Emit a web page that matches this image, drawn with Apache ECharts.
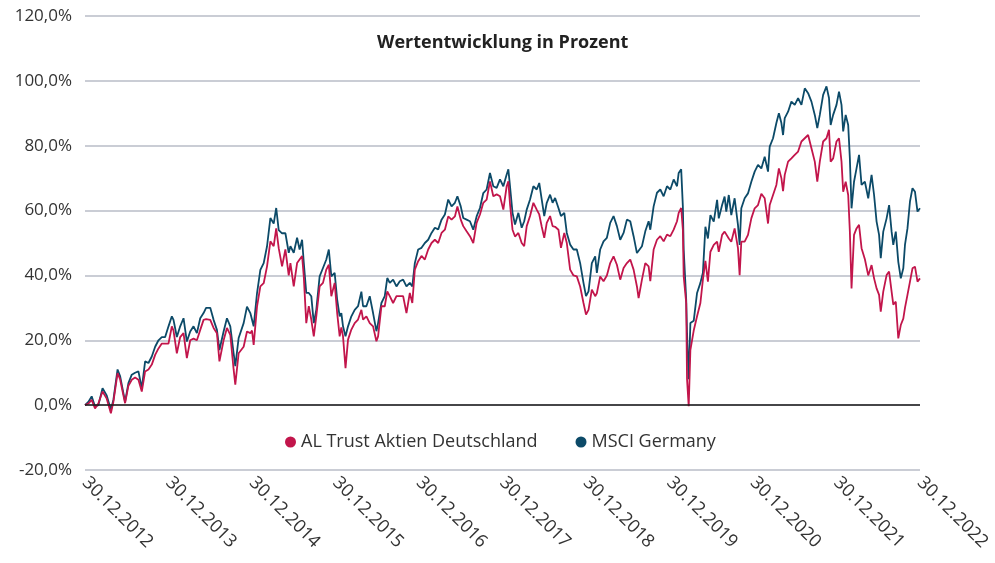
<!DOCTYPE html>
<html>
<head>
<meta charset="utf-8">
<script src="https://cdn.jsdelivr.net/npm/echarts@6/dist/echarts.min.js"></script>
<style>
  html, body { margin: 0; padding: 0; background: #fff; }
  #chart { width: 995px; height: 563px; }
</style>
</head>
<body>
<div id="chart"></div>
<script>
  // time in years since 30.12.2012
  const years = [
    0, 0.04, 0.08, 0.12, 0.16, 0.21, 0.26, 0.31, 0.34, 0.39, 0.42, 0.46, 0.48, 0.52, 0.56, 0.6, 0.64, 0.68, 0.72, 0.76,
    0.8, 0.84, 0.88, 0.92, 0.96, 1.0, 1.04, 1.06, 1.1, 1.14, 1.18, 1.22, 1.26, 1.3, 1.34, 1.38, 1.42, 1.45, 1.5, 1.54,
    1.58, 1.61, 1.66, 1.7, 1.74, 1.78, 1.8, 1.84, 1.9, 1.94, 1.98, 2.0, 2.02, 2.06, 2.1, 2.14, 2.18, 2.22, 2.26, 2.29,
    2.32, 2.36, 2.4, 2.44, 2.46, 2.5, 2.54, 2.57, 2.6, 2.62, 2.65, 2.68, 2.71, 2.74, 2.77, 2.81, 2.85, 2.89, 2.92, 2.95,
    2.99, 3.02, 3.05, 3.07, 3.09, 3.12, 3.15, 3.19, 3.23, 3.27, 3.31, 3.33, 3.37, 3.41, 3.45, 3.49, 3.51, 3.55, 3.59, 3.62,
    3.65, 3.69, 3.73, 3.77, 3.81, 3.85, 3.89, 3.92, 3.95, 3.99, 4.03, 4.07, 4.11, 4.15, 4.19, 4.23, 4.27, 4.31, 4.35, 4.39,
    4.43, 4.46, 4.5, 4.53, 4.57, 4.61, 4.65, 4.69, 4.73, 4.77, 4.81, 4.85, 4.89, 4.93, 4.97, 5.01, 5.05, 5.07, 5.09, 5.12,
    5.15, 5.19, 5.23, 5.26, 5.29, 5.33, 5.37, 5.41, 5.44, 5.47, 5.5, 5.53, 5.57, 5.6, 5.63, 5.67, 5.7, 5.74, 5.77, 5.81,
    5.85, 5.89, 5.93, 5.97, 6.0, 6.03, 6.07, 6.11, 6.13, 6.17, 6.21, 6.25, 6.29, 6.33, 6.37, 6.41, 6.45, 6.49, 6.53, 6.57,
    6.61, 6.63, 6.67, 6.71, 6.75, 6.77, 6.81, 6.85, 6.89, 6.93, 6.97, 7.01, 7.05, 7.09, 7.11, 7.14, 7.16, 7.17, 7.2, 7.21,
    7.23, 7.25, 7.29, 7.33, 7.37, 7.4, 7.43, 7.46, 7.49, 7.53, 7.57, 7.59, 7.63, 7.66, 7.68, 7.71, 7.74, 7.78, 7.82, 7.84,
    7.86, 7.9, 7.94, 7.98, 8.02, 8.06, 8.1, 8.14, 8.18, 8.2, 8.24, 8.28, 8.31, 8.34, 8.36, 8.38, 8.42, 8.46, 8.5, 8.54,
    8.58, 8.62, 8.66, 8.7, 8.74, 8.77, 8.8, 8.84, 8.88, 8.91, 8.93, 8.96, 9.0, 9.03, 9.06, 9.08, 9.11, 9.14, 9.16, 9.18,
    9.21, 9.24, 9.27, 9.3, 9.34, 9.38, 9.42, 9.45, 9.48, 9.51, 9.53, 9.56, 9.6, 9.63, 9.66, 9.68, 9.71, 9.74, 9.77, 9.8,
    9.82, 9.85, 9.88, 9.91, 9.94, 9.97, 10.0
  ];

  const msciGermany = [
    0, 1, 2.7, -0.4, 0, 5.2, 3, -1.4, 1.6, 11, 9, 3.7, 1, 6.8, 9.4, 10, 10.4, 5.2, 13.5, 13,
    15, 18, 20, 21, 21, 24.3, 27.4, 26.3, 21, 24.3, 26.8, 19.6, 22.7, 24.3, 22.2, 26.8, 28.4, 30, 30, 26.3,
    23.2, 17, 22.7, 26.8, 24.3, 16, 12, 20.7, 25.3, 30.4, 28.4, 29, 24.3, 34.5, 41.7, 43.8, 49, 57.7, 56, 60.8,
    54, 53, 53, 47, 49, 47, 51.6, 48, 51, 44, 34.6, 34.6, 33.6, 25.3, 29.4, 39.7, 42.3, 44.9, 48, 39.7,
    40.8, 32.5, 27.4, 28.4, 24.3, 21.2, 24.3, 27.4, 29.4, 30.5, 35, 30.5, 30.5, 33.6, 28.4, 22.8, 25.3, 31.5, 33.6, 39.2,
    37.7, 38.7, 36.6, 38.2, 38.7, 36.6, 37.7, 36.6, 43.8, 48, 48.5, 50, 51, 53.1, 54.7, 54.2, 57.2, 58.8, 63.4, 61.3,
    62.4, 64.4, 61.3, 57.7, 57.2, 56.7, 54.1, 58.2, 60.8, 65.4, 66.5, 71.6, 67.5, 67, 69.6, 67.5, 71.1, 72.7, 67.5, 59.3,
    55.7, 59.3, 54.7, 56.7, 60.3, 63.4, 67.5, 66.5, 68.5, 63.4, 58.3, 62.4, 64.9, 62.4, 63.9, 60.8, 58.3, 59.3, 53.1, 49.5,
    48, 48, 43.8, 37.7, 33.6, 35.1, 43.8, 45.9, 40.8, 48, 50.5, 51.6, 56.2, 58.3, 55.2, 51, 53.1, 57.2, 56.7, 52.1,
    46.9, 47.5, 49, 53.6, 56.7, 54.1, 61.3, 65.5, 66.5, 64.4, 67.5, 66.5, 69.6, 67.5, 71.6, 72.7, 61.3, 48, 32.5, 22.2,
    8, 25.3, 26, 34.6, 37.7, 40.8, 55, 51.4, 58.6, 56.6, 63.3, 57.6, 61.7, 64.3, 59.7, 64.8, 58.6, 63.8, 55.6, 49.4,
    60.7, 63.8, 65.3, 68.9, 72, 74.1, 73, 76.6, 72, 79.7, 82.3, 87, 90, 87, 83.3, 88.5, 90.5, 93.6, 92.6, 94.7,
    92.6, 97.7, 96.2, 93.6, 89.5, 85.4, 89.5, 95.7, 98.3, 94.7, 86.4, 89.5, 92.6, 96.7, 92.6, 84.4, 89.5, 86.4, 76.1, 60.7,
    68.9, 73, 77.2, 67.9, 68.9, 63.8, 71, 64.8, 56.6, 52.5, 45.3, 53.5, 57.6, 61.7, 53.5, 49.4, 53.5, 44.2, 39.1, 42.2,
    49.4, 54.5, 62.8, 66.9, 65.8, 59.7, 60.7
  ];

  const alTrust = [
    0, 0.5, 1.6, -1, 0.5, 4.2, 2, -2.5, 1, 9.9, 8, 3, 0.6, 6, 7.8, 8.5, 7.8, 4.2, 10.4, 11,
    12.5, 15.5, 17.5, 19, 19, 19, 24.3, 23, 16, 21, 22.2, 14.5, 20, 20.5, 20, 23.2, 26.3, 26.5, 26.3, 23.8,
    22.2, 13.5, 20, 23.8, 21.7, 11, 6.3, 16, 18, 22.7, 22.2, 23, 18.6, 30.4, 36.6, 37.6, 42.8, 50.5, 49, 54.5,
    48.4, 42.8, 48, 40, 43.8, 36.6, 43.8, 44.9, 46, 39.7, 25.3, 30.5, 26.4, 21.2, 27.4, 36.6, 37.7, 41.8, 43.3, 33.6,
    37.7, 28.4, 21.2, 24, 21.2, 11.4, 20.2, 23.3, 25.3, 26.4, 29.4, 26.4, 27.4, 25.3, 24.3, 19.7, 21.2, 30.5, 30.5, 35.1,
    33.6, 31.5, 33.6, 33.6, 33.6, 28.4, 34.6, 31.5, 41.8, 44.4, 46, 44.9, 48, 50, 51, 50, 53.1, 54.1, 58.2, 57.2,
    58.2, 61.3, 57.2, 55.2, 53.6, 52.1, 50, 56.2, 58.8, 62.4, 63.4, 69, 64.4, 65, 64.4, 60.3, 67.5, 69, 62, 54.1,
    52, 53.1, 50, 49, 55.2, 58.3, 62.4, 60.3, 58.8, 55, 51.6, 56.2, 58.3, 55.2, 55, 54.1, 48.5, 53.1, 50, 41.8,
    40, 39.7, 36.6, 31.5, 27.9, 29.4, 35.6, 33.6, 34.5, 39.7, 38.2, 40, 43.8, 45.9, 43.3, 38.7, 42.3, 43.8, 44.9, 41.8,
    36.6, 33, 38.7, 43.8, 42.8, 38.2, 48, 51, 52.1, 50.5, 52.6, 52.1, 54.1, 56.7, 59.3, 60.8, 54.1, 39.7, 31.5, 8,
    -0.3, 17, 23, 27.4, 31.5, 38.7, 44.5, 38.1, 47.3, 49.4, 50.4, 47.3, 52.5, 53.5, 53.5, 51.4, 50.4, 54.5, 48.4, 40.1,
    50.4, 50.4, 52.5, 57.6, 60.7, 61.7, 65.2, 63.8, 56, 61.7, 64.8, 67.9, 73, 70, 66, 71, 75.1, 76.1, 77.2, 78.2,
    81.3, 82.3, 83.3, 79.2, 75.1, 68.9, 75.1, 81.3, 82.3, 84.9, 75.1, 76.1, 81.3, 82.3, 75.1, 65.8, 68.9, 64.8, 53.5, 36,
    52.5, 54.5, 55.6, 48.4, 45, 40, 43.2, 39.1, 36, 34, 28.8, 35, 40.1, 41.2, 35, 31, 31.9, 20.6, 24.7, 26.7,
    30, 34, 38.1, 42.2, 42.7, 38.1, 39.1
  ];

  const seriesNames = ['AL Trust Aktien Deutschland', 'MSCI Germany'];
  const yTicks = { min: -20, max: 120, step: 20 };

  const font = '"Open Sans", "Noto Sans", sans-serif';
  const textColor = '#333333';

  const chartDom = document.getElementById('chart');
  const myChart = echarts.init(chartDom);

  const option = {
    animation: false,
    textStyle: { fontFamily: font },
    title: {
      text: 'Wertentwicklung in Prozent',
      left: 372,
      top: 29,
      textStyle: { fontSize: 18, fontWeight: 'bold', color: '#222', fontFamily: font }
    },
    legend: {
      data: seriesNames,
      left: 280,
      top: 428,
      icon: 'circle',
      itemWidth: 11,
      itemHeight: 11,
      itemGap: 38,
      textStyle: { fontSize: 18, color: textColor, fontFamily: font }
    },
    grid: { left: 85, right: 75, top: 16, bottom: 93 },
    xAxis: {
      type: 'value',
      min: 0,
      max: 10,
      interval: 1,
      axisLine: { show: false },
      axisTick: { show: false },
      splitLine: { show: false },
      axisLabel: {
        rotate: -45,
        margin: 10,
        fontSize: 18,
        color: textColor,
        fontFamily: font,
        formatter: v => '30.12.' + (2012 + v)
      }
    },
    yAxis: {
      type: 'value',
      min: yTicks.min,
      max: yTicks.max,
      interval: yTicks.step,
      axisLine: { show: false },
      axisTick: { show: false },
      splitLine: { lineStyle: { color: '#b9bdc7', width: 1.5 } },
      axisLabel: {
        margin: 13,
        fontSize: 17,
        color: textColor,
        fontFamily: font,
        formatter: v => v.toFixed(1).replace('.', ',') + '%'
      }
    },
    series: [
      {
        name: 'MSCI Germany',
        type: 'line',
        showSymbol: false,
        color: '#0c4a68',
        lineStyle: { width: 1.8, color: '#0c4a68' },
        data: years.map((t, i) => [t, msciGermany[i]]),
        markLine: {
          silent: true,
          symbol: 'none',
          label: { show: false },
          lineStyle: { color: '#1a1a1a', width: 1.5, type: 'solid' },
          data: [{ yAxis: 0 }]
        }
      },
      {
        name: 'AL Trust Aktien Deutschland',
        type: 'line',
        showSymbol: false,
        color: '#c2154b',
        lineStyle: { width: 1.8, color: '#c2154b' },
        data: years.map((t, i) => [t, alTrust[i]])
      }
    ]
  };

  myChart.setOption(option);
</script>
</body>
</html>
